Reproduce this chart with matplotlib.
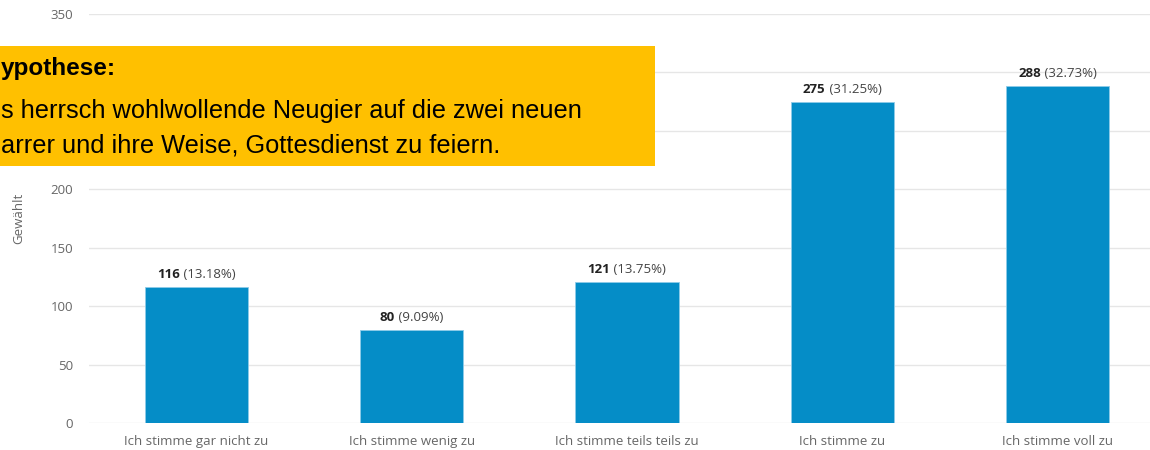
import matplotlib
matplotlib.use("Agg")
import matplotlib.pyplot as plt
from matplotlib.patches import Rectangle
import matplotlib.transforms as mtransforms

categories = ["Ich stimme gar nicht zu", "Ich stimme wenig zu", "Ich stimme teils teils zu",
              "Ich stimme zu", "Ich stimme voll zu"]
values = [116, 80, 121, 275, 288]
percents = ["13.18%", "9.09%", "13.75%", "31.25%", "32.73%"]
yticks = [0, 50, 100, 150, 200, 250, 300, 350]
# tick labels hidden behind the yellow box in the reference
ytick_labels = ["0", "50", "100", "150", "200", "", "", "350"]

box_title = "ypothese:"
box_lines = ["s herrsch wohlwollende Neugier auf die zwei neuen",
             "arrer und ihre Weise, Gottesdienst zu feiern."]

W, H = 1150, 450
fig = plt.figure(figsize=(W / 100, H / 100), dpi=100)
ax = fig.add_axes([89 / W, 1 - 423 / H, 1076 / W, (423 - 14) / H])

FS = 9.5
x = list(range(len(categories)))
ax.bar(x, values, width=0.48, color="#058DC7", edgecolor="#8fcbe8", linewidth=0.6, zorder=3)
ax.set_xlim(-0.5, len(categories) - 0.5)
ax.set_ylim(0, 350)
ax.set_yticks(yticks)
ax.set_xticks(x)
ax.set_xticklabels(categories, fontfamily="Open Sans", fontsize=FS, color="#666666")
ax.set_yticklabels(ytick_labels, fontfamily="Open Sans", fontsize=FS, color="#666666")
ax.tick_params(axis="both", length=0)
ax.tick_params(axis="x", pad=8.5)
ax.tick_params(axis="y", pad=11.5)
ax.grid(axis="y", color="#e6e6e6", linewidth=1, zorder=0)
ax.set_axisbelow(True)
for s in ax.spines.values():
    s.set_visible(False)
ax.set_ylabel("Gewählt", fontfamily="Open Sans", fontsize=FS, color="#666666", labelpad=18)

fig.canvas.draw()
renderer = fig.canvas.get_renderer()
for xi, v, p in zip(x, values, percents):
    t1 = ax.text(xi, v, str(v), fontfamily="Open Sans", fontweight="bold", fontsize=FS,
                 color="#222222", ha="left", va="bottom")
    t2 = ax.text(xi, v, " (" + p + ")", fontfamily="Open Sans", fontsize=FS,
                 color="#444444", ha="left", va="bottom")
    w1 = t1.get_window_extent(renderer).width
    w2 = t2.get_window_extent(renderer).width
    total = w1 + w2
    t1.set_transform(ax.transData + mtransforms.ScaledTranslation(-total / 2 / 100, 6 / 100, fig.dpi_scale_trans))
    t2.set_transform(ax.transData + mtransforms.ScaledTranslation((-total / 2 + w1) / 100, 6 / 100, fig.dpi_scale_trans))

# yellow hypothesis box
fig.patches.append(Rectangle((0, 1 - 166 / H), 655 / W, 120 / H, transform=fig.transFigure,
                             facecolor="#FFC000", edgecolor="none", zorder=10))
fig.text(1 / W, 1 - 68 / H, box_title, fontfamily="Liberation Sans", fontweight="bold",
         fontsize=17.5, color="#000000", va="center", ha="left", zorder=11)
fig.text(1 / W, 1 - 111 / H, box_lines[0], fontfamily="Liberation Sans",
         fontsize=18.3, color="#000000", va="center", ha="left", zorder=11)
fig.text(1 / W, 1 - 146 / H, box_lines[1], fontfamily="Liberation Sans",
         fontsize=18.3, color="#000000", va="center", ha="left", zorder=11)

fig.savefig("out.png", dpi=100)
